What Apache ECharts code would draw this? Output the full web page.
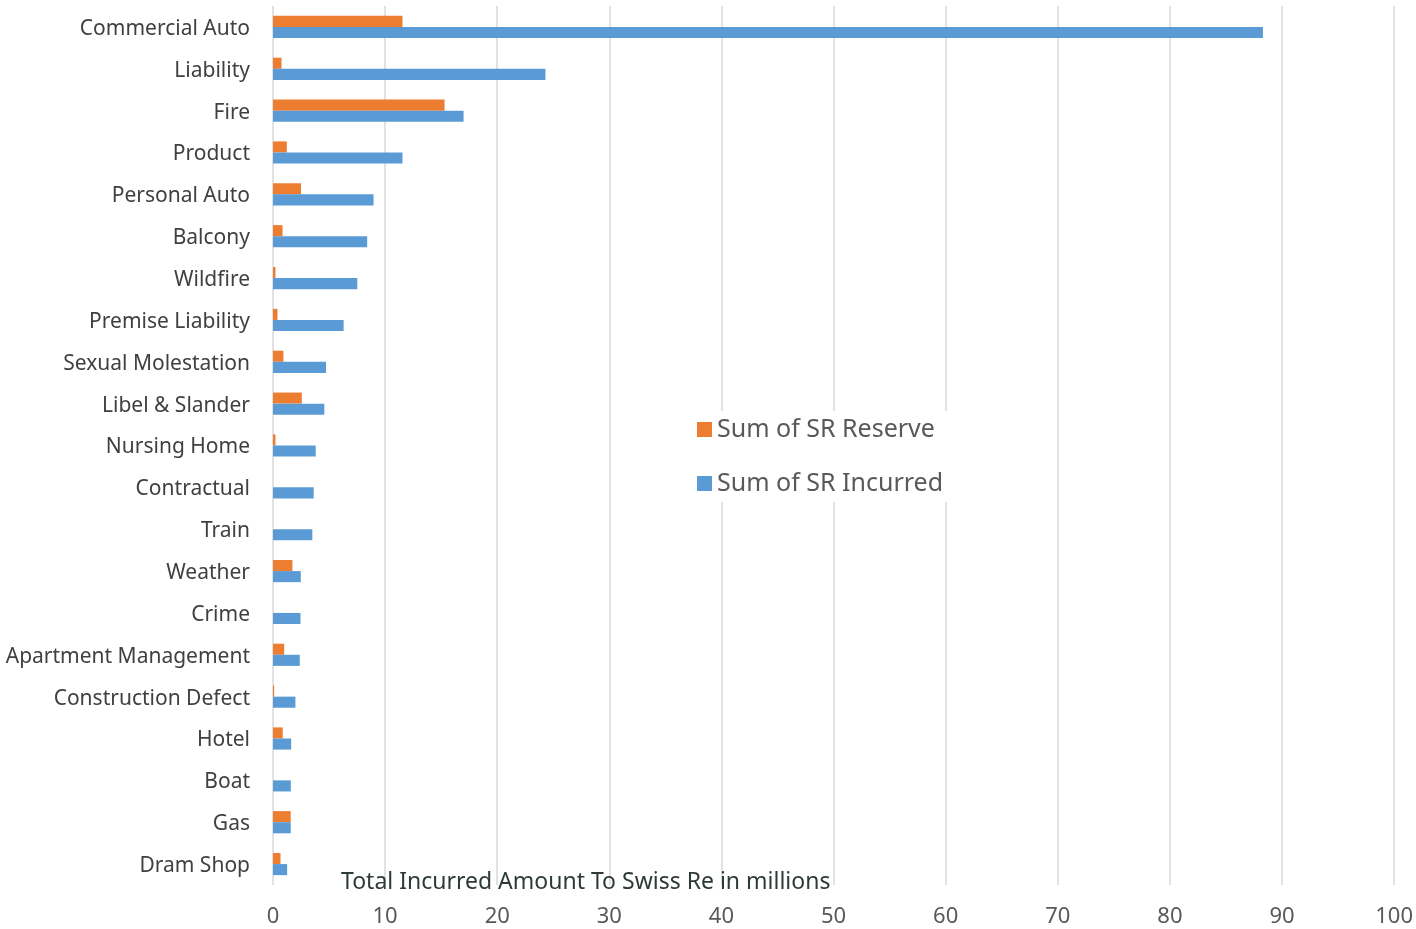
<!DOCTYPE html>
<html><head><meta charset="utf-8">
<script src="https://cdn.jsdelivr.net/npm/echarts@6/dist/echarts.min.js"></script>
<style>html,body{margin:0;padding:0;background:#fff}#c{width:1416px;height:929px}</style>
</head><body><div id="c"></div>
<script>
const categories = ["Commercial Auto","Liability","Fire","Product","Personal Auto","Balcony","Wildfire","Premise Liability","Sexual Molestation","Libel & Slander","Nursing Home","Contractual","Train","Weather","Crime","Apartment Management","Construction Defect","Hotel","Boat","Gas","Dram Shop"];
const reserve = [11.55,0.76,15.3,1.23,2.5,0.85,0.22,0.4,0.93,2.57,0.22,0,0,1.73,0,1.0,0.1,0.87,0,1.58,0.67];
const incurred = [88.3,24.3,17.0,11.55,8.97,8.4,7.52,6.3,4.73,4.58,3.81,3.63,3.51,2.48,2.45,2.39,2.0,1.62,1.59,1.58,1.26];
const xTicks = {min:0, max:100, interval:10};
const axisTitle = "Total Incurred Amount To Swiss Re in millions";

const chart = echarts.init(document.getElementById('c'), null, {renderer:'canvas'});
const font = "'Noto Sans', sans-serif";
chart.setOption({
  animation:false,
  textStyle:{fontFamily:font},
  title:{text:axisTitle, left:336, top:866, textStyle:{fontFamily:font, fontSize:23, fontWeight:'normal', color:'#2e3b35'}},
  legend:{orient:'vertical', left:691, top:411, icon:'rect', itemWidth:15, itemHeight:15, itemGap:29, itemTextGap:9,
    backgroundColor:'#fff', padding:[6,6,6,6],
    textStyle:{fontSize:25, color:'#595959', fontFamily:font},
    data:['Sum of SR Reserve','Sum of SR Incurred']},
  grid:{left:273, right:20, top:6, bottom:44, containLabel:false},
  xAxis:{type:'value', min:xTicks.min, max:xTicks.max, interval:xTicks.interval,
    axisLine:{show:false}, axisTick:{show:false},
    axisLabel:{fontSize:22, color:'#595959', margin:21, fontFamily:font},
    splitLine:{lineStyle:{color:'#d9d9d9', width:1.5}}},
  yAxis:{type:'category', data:categories, inverse:true,
    axisLine:{show:false}, axisTick:{show:false},
    axisLabel:{margin:23, formatter:'{a|{value}}',
      rich:{a:{fontSize:21, color:'#404040', fontFamily:font, padding:[4,0,0,0]}}}},
  series:[
    {name:'Sum of SR Reserve', type:'bar', data:reserve, itemStyle:{color:'#ED7D31'}, barGap:'0%', barCategoryGap:'47%'},
    {name:'Sum of SR Incurred', type:'bar', data:incurred, itemStyle:{color:'#5B9BD5'}, barGap:'0%', barCategoryGap:'47%'}
  ]
});
</script></body></html>
